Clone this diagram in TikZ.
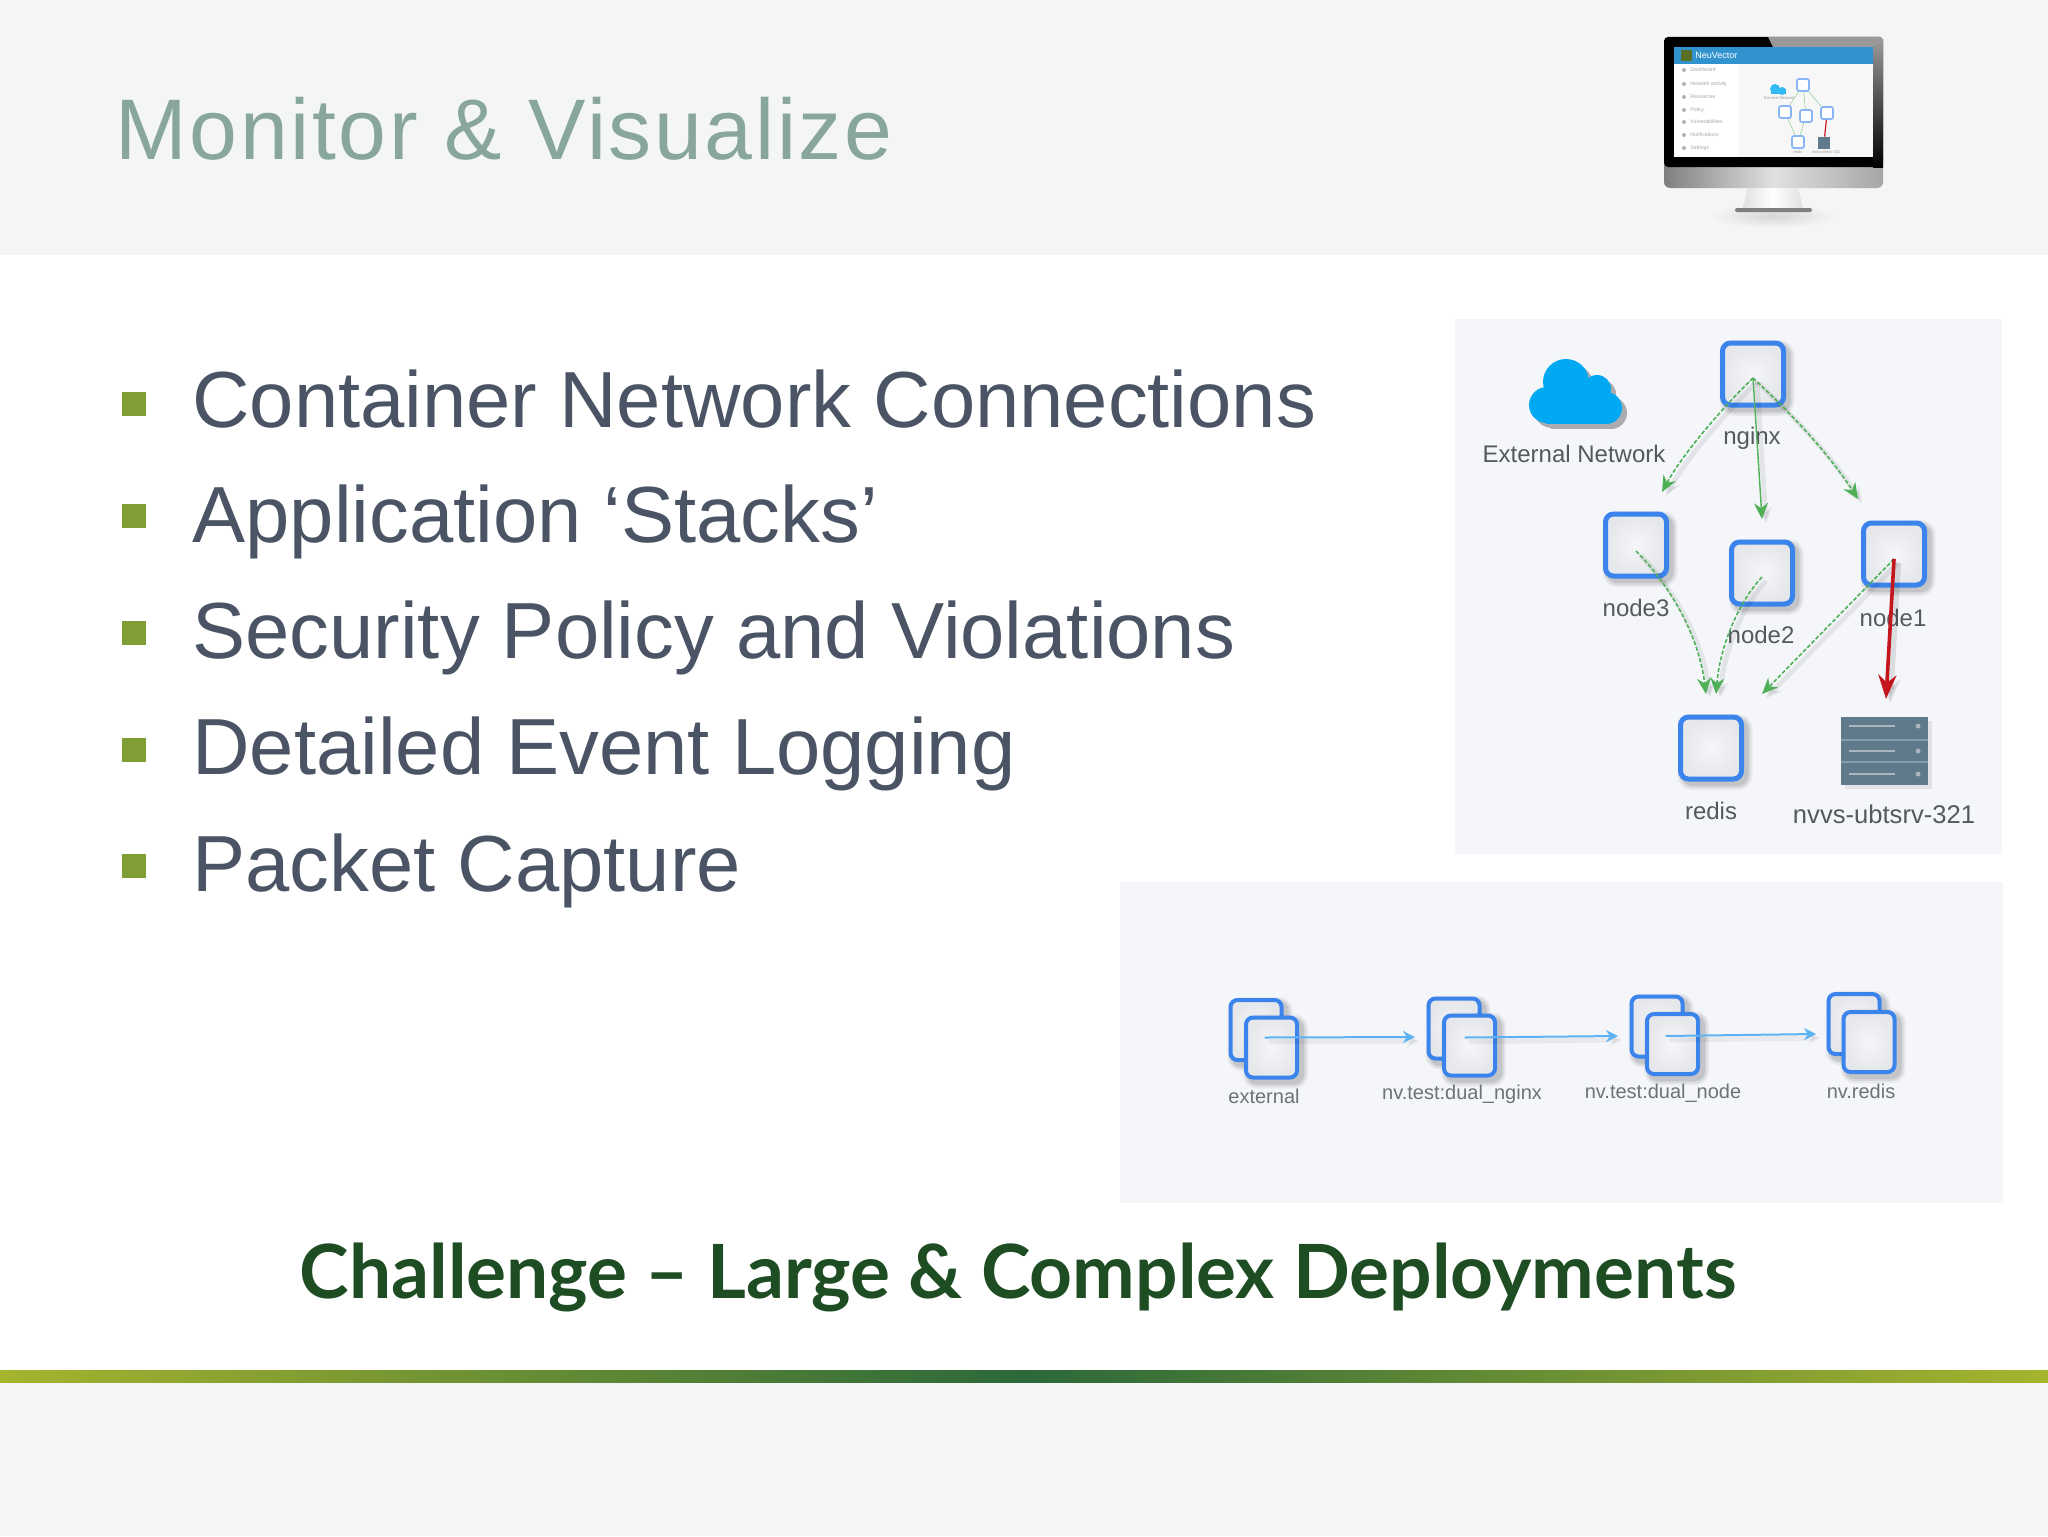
\documentclass[tikz,border=0pt]{standalone}
\usepackage{fontspec}
\setmainfont{Liberation Sans}
\newfontfamily\titlef[LetterSpace=3.1]{Liberation Sans}
\newfontfamily\challf{Lato}
\usetikzlibrary{arrows.meta,shadings}
\definecolor{bandbg}{HTML}{F4F5F7}
\definecolor{panelbg}{HTML}{F4F6FA}
\definecolor{titlec}{HTML}{88A69C}
\definecolor{bodyc}{HTML}{4A5464}
\definecolor{bulletc}{HTML}{7F9F36}
\definecolor{challc}{HTML}{1F4D23}
\definecolor{boxblue}{HTML}{3A84EC}
\definecolor{linkgreen}{HTML}{4FB058}
\definecolor{linkblue}{HTML}{5DB2F4}
\definecolor{linkred}{HTML}{C4161C}
\definecolor{cloudc}{HTML}{00A9F1}
\definecolor{serverc}{HTML}{5F7B8B}
\definecolor{labelc}{HTML}{55595E}
\definecolor{barend}{HTML}{A6B42E}
\definecolor{barmid}{HTML}{2C683A}
\definecolor{innergray}{HTML}{E6E7EB}
\definecolor{headerc}{HTML}{3193CE}
\tikzset{
 softshadow/.style={
  preaction={draw=black,opacity=.05,line width=7pt,transform canvas={shift={(2pt,-2pt)}}},
  preaction={draw=black,opacity=.07,line width=5pt,transform canvas={shift={(2pt,-2pt)}}},
  preaction={draw=black,opacity=.09,line width=3pt,transform canvas={shift={(2pt,-2pt)}}}},
 netbox/.style={softshadow,draw=boxblue,line width=2.5pt,rounded corners=4pt,minimum width=30.5pt,minimum height=31pt,inner sep=0pt,
   shade,inner color=panelbg,outer color=innergray},
 stackbox/.style={softshadow,draw=boxblue,line width=2pt,rounded corners=3.5pt,minimum width=25.5pt,minimum height=30pt,inner sep=0pt,
   shade,inner color=panelbg,outer color=innergray},
 bulletsq/.style={fill=bulletc,minimum size=12pt,inner sep=0pt},
 bodytxt/.style={anchor=base west,inner sep=0pt,text=bodyc,font=\fontsize{39.8}{48}\selectfont},
 netlabel/.style={inner sep=0pt,text=labelc,font=\fontsize{12}{14}\selectfont},
 srvlabel/.style={inner sep=0pt,text=labelc,font=\fontsize{12.8}{14}\selectfont},
 stacklabel/.style={inner sep=0pt,text=labelc!85,font=\fontsize{10}{12}\selectfont},
 greenlink/.style={draw=linkgreen,line width=.8pt,dash pattern=on 2pt off 1pt,-{Stealth[length=8pt,width=7pt]},
   preaction={draw=black,opacity=.07,line width=2.5pt,transform canvas={shift={(2pt,-2pt)}},solid}},
 greenplain/.style={draw=linkgreen,line width=.7pt,-{Stealth[length=8pt,width=7pt]},
   preaction={draw=black,opacity=.07,line width=2.5pt,transform canvas={shift={(2pt,-2pt)}}}},
 redlink/.style={draw=linkred,line width=1.8pt,-{Stealth[length=12pt,width=9pt]},
   preaction={draw=black,opacity=.10,line width=3pt,transform canvas={shift={(2pt,-2pt)}}}},
 bluelink/.style={draw=linkblue,line width=1pt,-{Stealth[length=6pt,width=6pt]},
   preaction={draw=black,opacity=.05,line width=2.5pt,transform canvas={shift={(2pt,-2pt)}}}},
 minilabel/.style={inner sep=0pt,text=gray!70,font=\fontsize{2.6}{3}\selectfont},
 minitiny/.style={inner sep=0pt,text=gray!80,font=\fontsize{2}{2.4}\selectfont},
 minibox/.style={draw=boxblue!60,fill=white,line width=.9pt,rounded corners=1pt,minimum size=6pt,inner sep=0pt},
}
\newcommand{\cloudshape}[1]{%
 \fill[#1] (1566,382) circle (23);
 \fill[#1] (1597,389) circle (14);
 \fill[#1] (1606,408) circle (16);
 \fill[#1] (1547,405) circle (18);
 \fill[#1] (1546,395) rectangle (1606,424);}
\begin{document}
\begin{tikzpicture}[x=.5pt,y=-.5pt]
\useasboundingbox (0,0) rectangle (2048,1536);
\fill[white] (0,0) rectangle (2048,1536);
% bands
\fill[bandbg] (0,0) rectangle (2048,255);
\fill[bandbg] (0,1382) rectangle (2048,1536);
\shade[left color=barend,right color=barend,middle color=barmid] (0,1370) rectangle (2048,1382);
% title
\node[anchor=base west,inner sep=0pt,text=titlec,font=\titlef\fontsize{43}{50}\selectfont] (title) at (115,159) {Monitor \& Visualize};
% bullets
\foreach \n/\yy in {a/404,b/516,c/633,d/750,e/866}{\node[bulletsq] (bul\n) at (134,\yy) {};}
\node[bodytxt] (t1) at (192,427) {Container Network Connections};
\node[bodytxt] (t2) at (192,542) {Application ‘Stacks’};
\node[bodytxt] (t3) at (192,658) {Security Policy and Violations};
\node[bodytxt] (t4) at (192,774) {Detailed Event Logging};
\node[bodytxt] (t5) at (192,891) {Packet Capture};
% challenge
\node[inner sep=0pt,anchor=base,text=challc,font=\challf\bfseries\fontsize{37.4}{44}\selectfont] (chall) at (1018,1298) {Challenge – Large \& Complex Deployments};
% monitor
\shade[inner color=black!16,outer color=bandbg] (1773,216) ellipse (62 and 12);
\shade[left color=black!12,right color=black!12,middle color=white] (1748,188) -- (1798,188) -- (1803,208) -- (1743,208) -- cycle;
\fill[black!50,rounded corners=1pt] (1735,208) rectangle (1812,212);
\shade[left color=black!50,right color=black!35,middle color=black!12,rounded corners=3pt] (1664,160) rectangle (1883,188);
\fill[black,rounded corners=2pt] (1664,37) rectangle (1883,167);
\shade[top color=black!40,bottom color=black] (1873,40) rectangle (1883,167);
\fill[black!40] (1768,37) -- (1881,37) -- (1883,40) -- (1873,47) -- (1773,47) -- cycle;
\fill[white] (1674,47) rectangle (1873,157);
\fill[black!3] (1738,64) rectangle (1873,157);
\fill[headerc] (1674,47) rectangle (1873,64);
\node[inner sep=0pt,anchor=west,text=white,font=\fontsize{4.5}{5}\selectfont] (mbrand) at (1695,55.5) {NeuVector};
\fill[bulletc!70!black] (1681,50) rectangle (1692,61);
\foreach \t/\yy in {Dashboard/70,Network activity/84,Resources/97,Policy/110,Vulnerabilities/122,Notifications/135,Settings/148}{
  \node[minilabel,anchor=west] at (1690,\yy) {\t};
  \fill[gray!60] (1684,\yy) circle (2);}
\fill[cloudc!80] (1775,89) circle (5);
\fill[cloudc!80] (1782,91) circle (4);
\fill[cloudc!80] (1771,89) rectangle (1786,94);
\node[minitiny] (mlext) at (1779,98) {External Network};
\node[minibox] (mnginx) at (1803,85) {};
\node[minibox] (mn3) at (1785,112) {};
\node[minibox] (mn2) at (1806,116) {};
\node[minibox] (mn1) at (1827,113) {};
\node[minibox] (mredis) at (1798,142) {};
\node[fill=serverc,minimum size=6pt,inner sep=0pt] (msrv) at (1824,143) {};
\draw[linkgreen!60,line width=.3pt] (mnginx) -- (mn3) (mnginx) -- (mn2) (mnginx) -- (mn1) (mn3) -- (mredis) (mn2) -- (mredis);
\draw[linkred,line width=.6pt] (mn1) -- (msrv);
\node[minitiny] (mlsrv) at (1826,152) {nvvs-ubtsrv-321};
\node[minitiny] (mlredis) at (1798,152) {redis};
% panel 1
\fill[panelbg] (1455,319) rectangle (2002,854);
\begin{scope}[transform canvas={shift={(2.5pt,-2.5pt)}}]
\cloudshape{black!30!panelbg}
\end{scope}
\cloudshape{cloudc}
\node[netlabel] (lext) at (1574,454) {External Network};
\node[netbox] (nginx) at (1753,374) {};
\node[netbox] (node3) at (1636,545) {};
\node[netbox] (node2) at (1762,573) {};
\node[netbox] (node1) at (1894,554) {};
\node[netbox] (redis) at (1711,748) {};
\node[fill=serverc,minimum width=43.5pt,minimum height=34pt,inner sep=0pt,
  preaction={fill=black,opacity=.08,transform canvas={shift={(2pt,-2pt)}}}] (srv) at (1884.5,751) {};
\draw[white,opacity=.25,line width=1pt] (1841,740) -- (1928,740) (1841,762) -- (1928,762);
\foreach \yy in {726,751,774}{\draw[white,opacity=.45,line width=1.2pt] (1849,\yy) -- (1895,\yy); \fill[white,opacity=.45] (1918,\yy) circle (2.5);}
\node[netlabel] (lnginx) at (1752,438) {nginx};
\node[netlabel] (ln3) at (1636,608) {node3};
\node[netlabel] (ln2) at (1761,635) {node2};
\node[netlabel] (ln1) at (1893,618) {node1};
\node[netlabel] (lredis) at (1711,811) {redis};
\node[srvlabel] (lsrv) at (1884,814) {nvvs-ubtsrv-321};
\coordinate (e3) at (1662,492);
\coordinate (e2) at (1762,519);
\coordinate (e1) at (1858,499);
\coordinate (r3) at (1706,694);
\coordinate (r2) at (1716,694);
\coordinate (r1) at (1762,694);
\coordinate (esrv) at (1886,699);
\path[greenlink] (nginx.center) ++(0,4) .. controls (1722,408) and (1682,455) .. (e3);
\path[greenplain] (nginx.center) ++(0,4) -- (e2);
\path[greenlink] (nginx.center) ++(0,4) .. controls (1785,408) and (1825,448) .. (e1);
\path[greenlink] (node3.center) ++(0,6) .. controls (1665,580) and (1698,630) .. (r3);
\path[greenlink] (node2.center) ++(0,4) .. controls (1740,600) and (1720,645) .. (r2);
\path[greenlink] (node1.center) ++(0,5) -- (r1);
\path[redlink] (node1.center) ++(0,5) -- (esrv);
% panel 2
\fill[panelbg] (1120,882) rectangle (2003,1203);
\node[stackbox] (ext0) at (1256,1030) {};
\node[stackbox] (ext) at (1271.5,1047.5) {};
\node[stackbox] (ngx0) at (1454,1028.5) {};
\node[stackbox] (ngx) at (1469.5,1045.5) {};
\node[stackbox] (nod0) at (1657,1026.5) {};
\node[stackbox] (nod) at (1672.5,1044) {};
\node[stackbox] (red0) at (1854,1024) {};
\node[stackbox] (red) at (1869,1042) {};
\coordinate (a1) at (1415,1037);
\coordinate (a2) at (1618,1036);
\coordinate (a3) at (1816,1034);
\path[bluelink] (ext.center) ++(-7,-10) -- (a1);
\path[bluelink] (ngx.center) ++(-5,-8) -- (a2);
\path[bluelink] (nod.center) ++(-7,-8) -- (a3);
\node[stacklabel] (lb1) at (1264,1096) {external};
\node[stacklabel] (lb2) at (1462,1094) {nv.test:dual\_nginx};
\node[stacklabel] (lb3) at (1663,1093) {nv.test:dual\_node};
\node[stacklabel] (lb4) at (1861,1091) {nv.redis};
\end{tikzpicture}
\end{document}
